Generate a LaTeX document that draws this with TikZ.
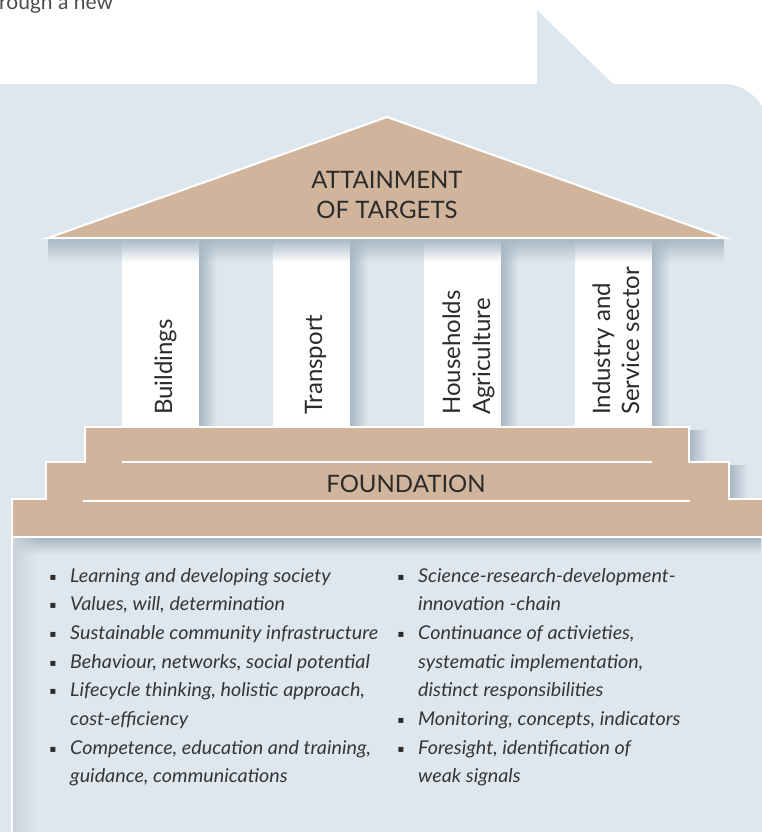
\documentclass[tikz,border=0pt]{standalone}
\usepackage{fontspec}
\setmainfont{Lato}
\newfontfamily\itemfont{Lato}[FakeStretch=1.04]
\newfontfamily\bulfont{DejaVu Sans}
\usetikzlibrary{fadings}
\definecolor{bubble}{HTML}{DFE7EE}
\definecolor{roofc}{HTML}{D0B59C}
\definecolor{ink}{HTML}{2B2B2B}
\definecolor{shade}{HTML}{A9B8C4}
\tikzfading[name=fadeR, left color=transparent!0, right color=transparent!100]
\tikzfading[name=fadeD, top color=transparent!0, bottom color=transparent!100]
\begin{document}
\begin{tikzpicture}[x=1pt,y=-1pt,
  lbl/.style={font=\fontsize{24}{28}\selectfont, text=ink, inner sep=0pt},
  collbl/.style={lbl, rotate=90, anchor=base west},
  item/.style={font=\itemfont\fontsize{19}{22}\selectfont\itshape, text=ink!95, inner sep=0pt, anchor=base west},
  bul/.style={font=\bulfont\fontsize{10}{12}\selectfont, text=ink, inner sep=0pt, anchor=base west},
  pillar/.style={fill=white},
  whiteline/.style={draw=white, line width=2pt},
  sideshadow/.style={fill=shade, path fading=fadeR},
  downshadow/.style={fill=shade, path fading=fadeD}
]
\useasboundingbox (0,0) rectangle (761,832);
% intro text
\node[font=\fontsize{21}{25}\selectfont, text=ink!85, inner sep=0pt, anchor=base west] (intro) at (-1,10) {rough a new};
% speech bubble
\fill[bubble] (0,84) -- (537,84) -- (537,10) -- (613,84) -- (723,84)
  .. controls (748,84) and (768,104) .. (768,129) -- (768,840) -- (0,840) -- cycle;
% columns
\foreach \cx in {122,273,424,575}{
  \fill[pillar] (\cx,238) rectangle ({\cx+77},428);
  \fill[sideshadow] ({\cx+77},240) rectangle ({\cx+95},427);
}
\fill[downshadow] (48,239) rectangle (725,262);
% roof
\draw[whiteline, fill=roofc, line join=miter] (48,238) -- (387,117) -- (725,238) -- cycle;
% foundation shadows
\fill[sideshadow] (690,430) rectangle (708,462);
\fill[sideshadow] (730,465) rectangle (748,499);
\fill[downshadow] (13,538) rectangle (761,554);
\fill[shade!60, path fading=fadeR] (13,538) rectangle (38,840);
% foundation
\draw[whiteline, fill=roofc] (85,427) -- (689,427) -- (689,462) -- (729,462) -- (729,499)
  -- (775,499) -- (775,537) -- (12,537) -- (12,499) -- (46,499) -- (46,462) -- (85,462) -- cycle;
\draw[whiteline] (122,462) -- (652,462);
\draw[whiteline] (83,501) -- (690,501);
\draw[whiteline] (12,537) -- (12,840);
% roof text
\node[lbl, anchor=base] (att1) at (387,188) {ATTAINMENT};
\node[lbl, anchor=base] (att2) at (387,218) {OF TARGETS};
\node[lbl, anchor=base] (found) at (406,492) {FOUNDATION};
% column labels
\node[collbl] (c1) at (172,415) {Buildings};
\node[collbl] (c2) at (322,415) {Transport};
\node[collbl] (c3a) at (460,415) {Households};
\node[collbl] (c3b) at (490,415) {Agriculture};
\node[collbl] (c4a) at (610,415) {Industry and};
\node[collbl] (c4b) at (639,415) {Service sector};
% left list
\foreach \t [count=\k from 0] in {Learning and developing society,
  {Values, will, determination},
  Sustainable community infrastructure,
  {Behaviour, networks, social potential},
  {Lifecycle thinking, holistic approach,},
  cost-efficiency,
  {Competence, education and training,},
  {guidance, communications}}{
  \node[item] (l\k) at (70,{582+28.7*\k}) {\t};
}
\foreach \k in {0,1,2,3,4,6}{
  \node[bul] (lb\k) at (49.5,{580+28.7*\k}) {▪};
}
% right list
\foreach \t [count=\k from 0] in {Science-research-development-,
  innovation -chain,
  {Continuance of activieties,},
  {systematic implementation,},
  distinct responsibilities,
  {Monitoring, concepts, indicators},
  {Foresight, identification of},
  weak signals}{
  \node[item] (r\k) at (418,{582+28.7*\k}) {\t};
}
\foreach \k in {0,2,5,6}{
  \node[bul] (rb\k) at (397.5,{580+28.7*\k}) {▪};
}
\end{tikzpicture}
\end{document}
